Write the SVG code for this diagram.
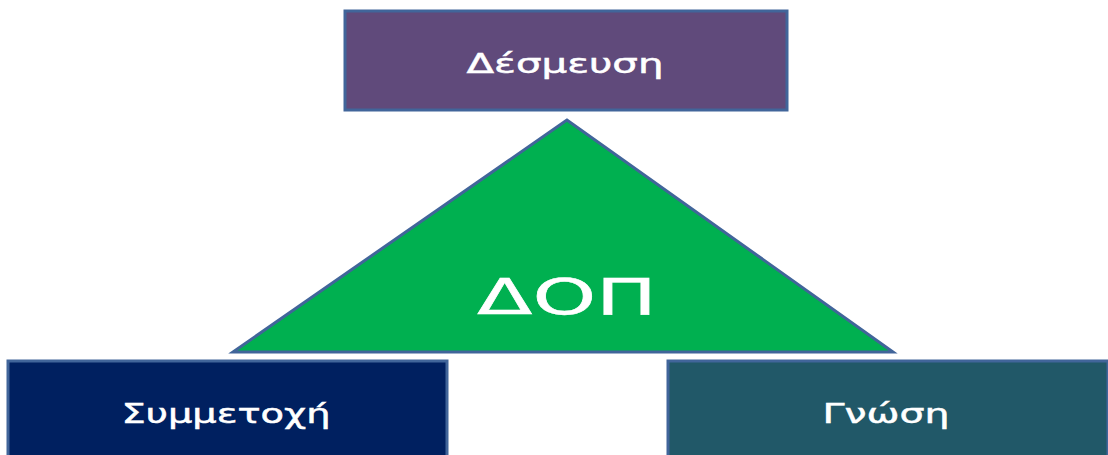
<svg xmlns="http://www.w3.org/2000/svg" width="1108" height="455" viewBox="0 0 1108 455">
<style>
.box{stroke:#41659a;stroke-width:3}
.lbl{font-family:"DejaVu Sans","Open Sans",sans-serif;fill:#ffffff;stroke:#ffffff;stroke-width:0.5;text-anchor:middle}
</style>
<rect width="1108" height="455" fill="#ffffff"/>
<g id="connectors"></g>
<g id="desmefsi">
<rect class="box" x="345" y="11" width="442" height="99" fill="#604a7b"/>
<text class="lbl" x="565" y="73" font-size="27" textLength="197" lengthAdjust="spacingAndGlyphs">Δέσμευση</text>
</g>
<g id="dop">
<polygon class="box" points="567,120 233,352 893,352" fill="#00b050"/>
<text class="lbl" x="567" y="314" font-size="50" textLength="180" lengthAdjust="spacingAndGlyphs">ΔΟΠ</text>
</g>
<g id="symmetoxi">
<rect class="box" x="8" y="361" width="439" height="110" fill="#002060"/>
<text class="lbl" x="226" y="423" font-size="27" textLength="209" lengthAdjust="spacingAndGlyphs">Συμμετοχή</text>
</g>
<g id="gnosi">
<rect class="box" x="668" y="361" width="440" height="110" fill="#215868"/>
<text class="lbl" x="886" y="423" font-size="27" textLength="127" lengthAdjust="spacingAndGlyphs">Γνώση</text>
</g>
</svg>
